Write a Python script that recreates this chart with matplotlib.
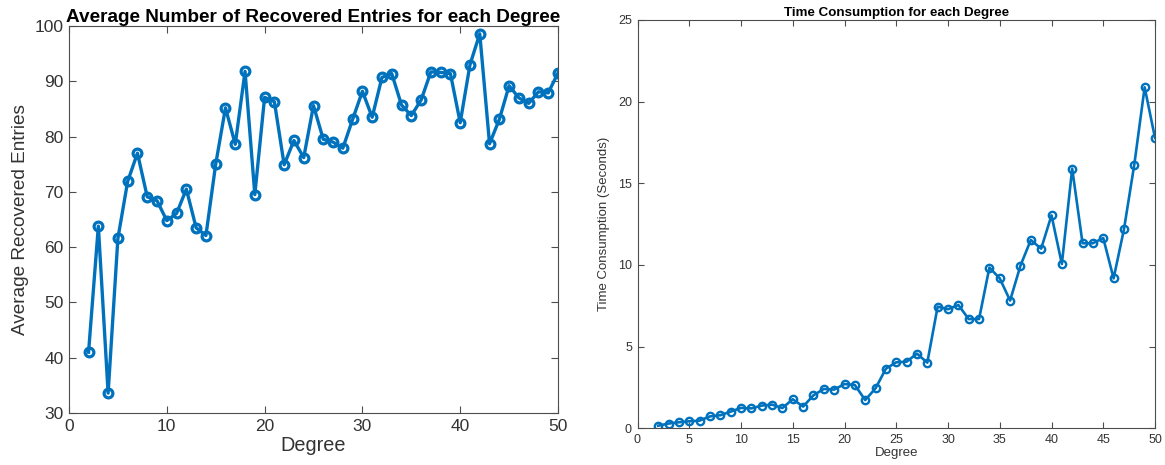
import matplotlib
matplotlib.use("Agg")
import matplotlib.pyplot as plt

degrees = list(range(2, 51))
recovered = [41.0, 63.8, 33.6, 61.6, 71.9, 77.0, 69.1, 68.4, 64.8, 66.1,
             70.5, 63.5, 62.1, 75.0, 85.2, 78.6, 91.8, 69.5, 87.1, 86.3,
             74.9, 79.3, 76.2, 85.6, 79.5, 79.0, 77.9, 83.1, 88.2, 83.5,
             90.7, 91.4, 85.7, 83.8, 86.6, 91.7, 91.6, 91.4, 82.5, 93.0,
             98.6, 78.7, 83.1, 89.2, 87.0, 86.0, 88.1, 87.9, 91.5]
times = [0.16, 0.29, 0.37, 0.43, 0.47, 0.73, 0.80, 1.02, 1.25, 1.22,
         1.39, 1.45, 1.24, 1.78, 1.33, 2.02, 2.41, 2.37, 2.71, 2.65,
         1.73, 2.45, 3.65, 4.04, 4.08, 4.57, 4.02, 7.45, 7.29, 7.55,
         6.69, 6.69, 9.84, 9.18, 7.82, 9.96, 11.53, 11.0, 13.04, 10.06,
         15.9, 11.33, 11.33, 11.65, 9.18, 12.18, 16.15, 20.88, 17.78]

left_title = "Average Number of Recovered Entries for each Degree"
left_xlabel = "Degree"
left_ylabel = "Average Recovered Entries"
right_title = "Time Consumption for each Degree"
right_xlabel = "Degree"
right_ylabel = "Time Consumption (Seconds)"

plt.rcParams['font.family'] = ['Liberation Sans', 'DejaVu Sans']
blue = '#0072BD'
axcol = '#333333'
spcol = '#4d4d4d'

fig = plt.figure(figsize=(11.65, 4.65), dpi=100)

def style(ax, fs, tl):
    for s in ax.spines.values():
        s.set_color(spcol)
        s.set_linewidth(0.8)
    ax.tick_params(direction='in', top=True, right=True, length=tl,
                   width=0.8, color=spcol, labelcolor=axcol, labelsize=fs,
                   pad=4)

ax1 = fig.add_axes([69/1165, 52/465, 489/1165, 387/465])
ax1.plot(degrees, recovered, '-o', color=blue, lw=2.4, ms=6.3, mew=2.3,
         mfc='none', mec=blue)
ax1.set_xlim(0, 50)
ax1.set_ylim(30, 100)
ax1.set_xticks([0, 10, 20, 30, 40, 50])
ax1.set_yticks(range(30, 101, 10))
style(ax1, 12.5, 5)
ax1.set_title(left_title, fontsize=13.7, fontweight='bold', color='black', pad=3)
ax1.set_xlabel(left_xlabel, fontsize=14.3, color=axcol, labelpad=2)
ax1.set_ylabel(left_ylabel, fontsize=13.7, color=axcol, labelpad=4)

ax2 = fig.add_axes([637.5/1165, 36.7/465, 517.5/1165, 408.3/465])
ax2.plot(degrees, times, '-o', color=blue, lw=1.9, ms=5.3, mew=1.7,
         mfc='none', mec=blue)
ax2.set_xlim(0, 50)
ax2.set_ylim(0, 25)
ax2.set_xticks(range(0, 51, 5))
ax2.set_yticks(range(0, 26, 5))
style(ax2, 9, 4)
ax2.set_title(right_title, fontsize=9.6, fontweight='bold', color='black', pad=3)
ax2.set_xlabel(right_xlabel, fontsize=9.5, color=axcol, labelpad=1)
ax2.set_ylabel(right_ylabel, fontsize=9.5, color=axcol, labelpad=6)

fig.savefig("out.png", dpi=100)
